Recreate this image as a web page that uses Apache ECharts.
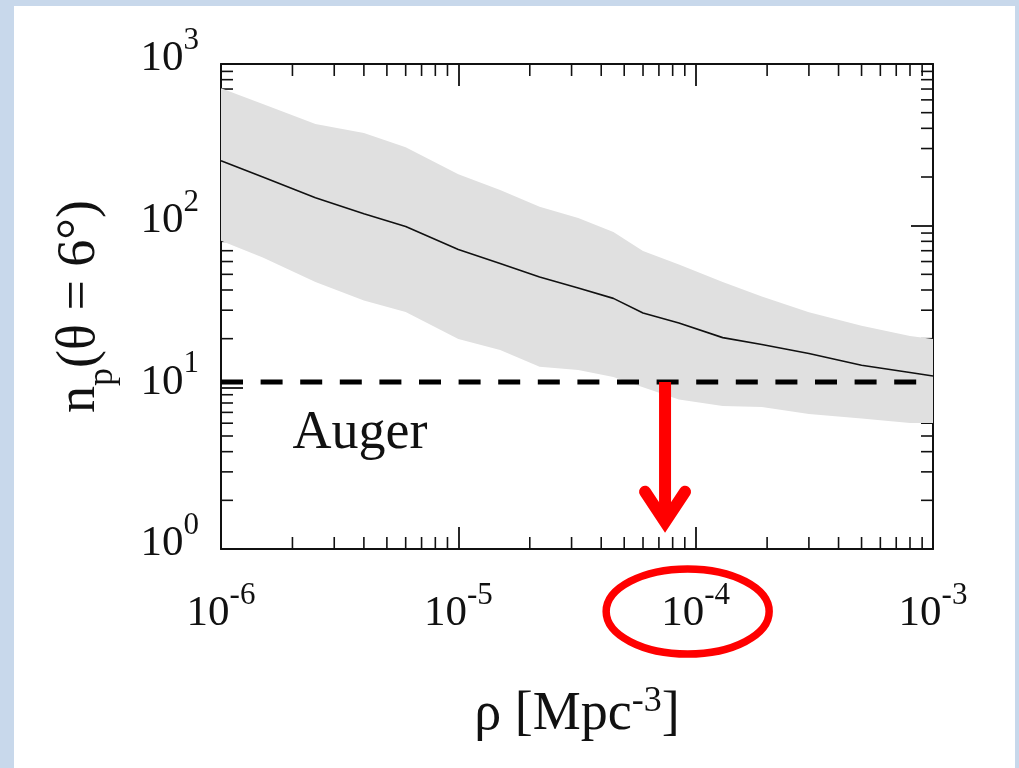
<!DOCTYPE html>
<html>
<head>
<meta charset="utf-8">
<script src="https://cdn.jsdelivr.net/npm/echarts@6/dist/echarts.min.js"></script>
<style>
html, body { margin: 0; padding: 0; width: 1019px; height: 768px; background: #c8d8eb; overflow: hidden; }
#panel { position: absolute; left: 14px; top: 6px; width: 1001px; height: 762px; background: #fff; }
#chart { position: absolute; left: 0; top: 0; width: 1019px; height: 768px; }
</style>
</head>
<body>
<div id="panel"></div>
<div id="chart"></div>
<script>
// 密度 rho [Mpc^-3] 与 n_p(theta = 6°)
var rho    = [1e-6, 1.5e-6, 2.5e-6, 4e-6, 6e-6, 1e-5, 1.5e-5, 2.2e-5, 3.2e-5, 4.5e-5, 6e-5, 8.5e-5, 1.3e-4, 1.9e-4, 3e-4, 5e-4, 8e-4, 1e-3];
var npMid  = [252, 200, 149, 118.5, 98.7, 71.2, 58.4, 48.1, 41.1, 35.5, 28.8, 25.0, 20.3, 18.4, 16.2, 13.7, 12.35, 11.75];
var npHigh = [709, 565, 425, 374, 306, 208, 166, 131, 111.4, 91.3, 69.6, 57.5, 44.8, 36.4, 29.1, 24.0, 20.8, 19.9];
var npLow  = [80.7, 63.5, 44.8, 34.4, 29.2, 19.9, 17.0, 13.4, 12.8, 11.6, 10.0, 8.41, 7.66, 7.55, 6.84, 6.41, 6.02, 6.02];
var augerLevel = 10.8;            // Auger 水平线
var xRange = [1e-6, 1e-3];
var yRange = [1, 1000];
var minorMult = [2, 3, 4, 5, 6, 7, 8, 9];
var xDecades = [1e-6, 1e-5, 1e-4];
var yDecades = [1, 10, 100];
var arrowShaft = [[7.43e-5, 10.8], [7.43e-5, 1.47]];
var arrowHead = [[6.12e-5, 2.26], [7.43e-5, 1.47], [9.02e-5, 2.26]];
var augerText = [[2.0e-6, 5.14]];
var circledTick = [[1e-4, 1]];

var serif = '"Liberation Serif", "DejaVu Serif", serif';
var ink = '#111';

var xMinor = [], yMinor = [];
xDecades.forEach(function (d) { minorMult.forEach(function (m) { xMinor.push([m * d, yRange[0]]); }); });
yDecades.forEach(function (d) { minorMult.forEach(function (m) { yMinor.push([xRange[0], m * d]); }); });

function powLabel(v) {
	var e = Math.round(Math.log(v) / Math.LN10);
	return '{b|10}{s|' + e + '}';
}
var powRich = {
	b: { fontFamily: serif, fontSize: 43, color: ink, lineHeight: 55, verticalAlign: 'bottom' },
	s: { fontFamily: serif, fontSize: 31, color: ink, lineHeight: 32, verticalAlign: 'top' }
};

function tickLine(x1, y1, x2, y2) {
	return { type: 'line', shape: { x1: x1, y1: y1, x2: x2, y2: y2 }, style: { stroke: ink, lineWidth: 1.6 } };
}

var chart = echarts.init(document.getElementById('chart'));
var frameAxis = {
	type: 'log', logBase: 10,
	axisLine: { show: true, lineStyle: { color: ink, width: 2 } },
	axisTick: { show: true, inside: true, length: 22, lineStyle: { color: ink, width: 1.8 } },
	splitLine: { show: false }
};

chart.setOption({
	animation: false,
	backgroundColor: 'transparent',
	grid: { left: 221, top: 64, width: 712, height: 485 },
	xAxis: [
		Object.assign({}, frameAxis, {
			position: 'bottom', min: xRange[0], max: xRange[1],
			axisLabel: { formatter: powLabel, rich: powRich, margin: 31, showMinLabel: true, showMaxLabel: true, hideOverlap: false },
			name: '{a|ρ [Mpc}{s|-3}{a|]}', nameLocation: 'middle', nameGap: 135,
			nameTextStyle: { rich: {
				a: { fontFamily: serif, fontSize: 54, color: ink, lineHeight: 58, verticalAlign: 'bottom' },
				s: { fontFamily: serif, fontSize: 36, color: ink, lineHeight: 36, verticalAlign: 'top' }
			} }
		}),
		Object.assign({}, frameAxis, { position: 'top', min: xRange[0], max: xRange[1], axisLabel: { show: false } })
	],
	yAxis: [
		Object.assign({}, frameAxis, {
			position: 'left', min: yRange[0], max: yRange[1],
			axisLabel: { formatter: powLabel, rich: powRich, margin: 22, padding: [0, 0, 22, 0], showMinLabel: true, showMaxLabel: true },
			name: '{a|n}{p|p}{a|(θ = 6°)}', nameLocation: 'middle', nameGap: 100,
			nameTextStyle: { rich: {
				a: { fontFamily: serif, fontSize: 54, color: ink, lineHeight: 68, verticalAlign: 'top' },
				p: { fontFamily: serif, fontSize: 36, color: ink, lineHeight: 36, verticalAlign: 'bottom' }
			} }
		}),
		Object.assign({}, frameAxis, { position: 'right', min: yRange[0], max: yRange[1], axisLabel: { show: false } })
	],
	series: [
		{	// 次刻度 x
			type: 'custom', z: 1, silent: true, clip: false,
			data: xMinor,
			renderItem: function (params, api) {
				var v = api.value(0);
				var b = api.coord([v, yRange[0]]), t = api.coord([v, yRange[1]]);
				return { type: 'group', children: [tickLine(b[0], b[1], b[0], b[1] - 12), tickLine(t[0], t[1], t[0], t[1] + 12)] };
			}
		},
		{	// 次刻度 y
			type: 'custom', z: 1, silent: true, clip: false,
			data: yMinor,
			renderItem: function (params, api) {
				var v = api.value(1);
				var l = api.coord([xRange[0], v]), r = api.coord([xRange[1], v]);
				return { type: 'group', children: [tickLine(l[0], l[1], l[0] + 12, l[1]), tickLine(r[0], r[1], r[0] - 12, r[1])] };
			}
		},
		{	// 灰色误差带
			type: 'custom', z: 2, silent: true,
			data: rho.map(function (r, i) { return [r, npLow[i], npHigh[i]]; }),
			encode: { x: 0, y: [1, 2] },
			renderItem: function (params, api) {
				if (params.dataIndex !== 0) return;
				var pts = [], i;
				for (i = 0; i < rho.length; i++) pts.push(api.coord([rho[i], npHigh[i]]));
				for (i = rho.length - 1; i >= 0; i--) pts.push(api.coord([rho[i], npLow[i]]));
				return { type: 'polygon', shape: { points: pts }, style: { fill: '#e0e0e0' } };
			}
		},
		{
			type: 'line', z: 4, symbol: 'none', silent: true,
			data: rho.map(function (r, i) { return [r, npMid[i]]; }),
			lineStyle: { color: ink, width: 1.6 }
		},
		{	// Auger
			type: 'line', z: 3, symbol: 'none', silent: true,
			data: [[xRange[0], augerLevel], [xRange[1], augerLevel]],
			lineStyle: { color: '#000', width: 5, type: [22, 17.6], cap: 'butt' }
		},
		{
			type: 'custom', z: 3, silent: true, clip: false,
			data: augerText,
			renderItem: function (params, api) {
				var p = api.coord([api.value(0), api.value(1)]);
				return { type: 'text', x: p[0], y: p[1], style: { text: 'Auger', fontFamily: serif, fontSize: 54, fill: ink, align: 'left', verticalAlign: 'middle' } };
			}
		},
		{
			type: 'line', z: 5, symbol: 'none', silent: true,
			data: arrowShaft,
			lineStyle: { color: '#ff0000', width: 12, cap: 'butt' }
		},
		{
			type: 'line', z: 5, symbol: 'none', silent: true,
			data: arrowHead,
			lineStyle: { color: '#ff0000', width: 12, cap: 'round', join: 'miter' }
		},
		{	// 红圈 10^-4
			type: 'custom', z: 5, silent: true, clip: false,
			data: circledTick,
			renderItem: function (params, api) {
				var p = api.coord([api.value(0), api.value(1)]);
				return { type: 'ellipse', shape: { cx: p[0] - 8, cy: p[1] + 62.5, rx: 81.5, ry: 42.5 }, style: { fill: 'none', stroke: '#ff0000', lineWidth: 7.5 } };
			}
		}
	]
});
</script>
</body>
</html>
